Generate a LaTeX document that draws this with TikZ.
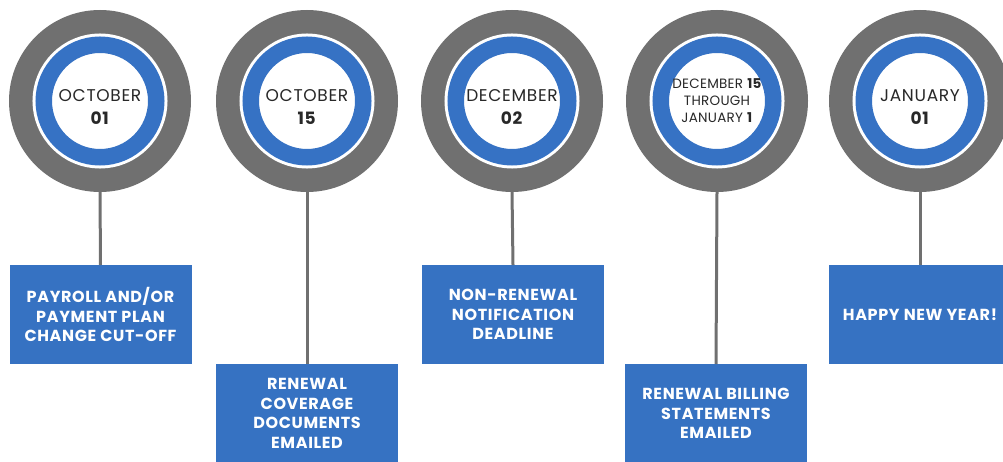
\documentclass[tikz,border=0pt]{standalone}
\usepackage{fontspec}
\setmainfont{Poppins}
\definecolor{ringgray}{RGB}{112,112,112}
\definecolor{ringblue}{RGB}{54,114,196}
\definecolor{boxblue}{RGB}{54,114,194}
\definecolor{txt}{RGB}{40,40,40}
\newcommand{\datelines}[1]{\raisebox{-7.5pt}[\height][\depth]{\begin{tabular}{@{}c@{}}#1\end{tabular}}}
\begin{document}
\begin{tikzpicture}[x=1pt,y=-1pt,
  outerring/.style={circle, fill=ringgray, minimum size=182pt, inner sep=0pt, outer sep=0pt},
  datering/.style={circle, fill=white, draw=white, double=ringblue, double distance=16.5pt, line width=3pt, minimum size=112.5pt, inner sep=0pt, align=center, text=txt, font=\fontsize{17}{23}\selectfont\addfontfeatures{LetterSpace=4}},
  smalldate/.style={font=\fontsize{13.5}{17}\selectfont\addfontfeatures{LetterSpace=2}},
  stepbox/.style={rectangle, fill=boxblue, minimum width=182pt, minimum height=99pt, inner sep=0pt, outer sep=0pt, align=center, text=white, font=\bfseries\fontsize{16}{19.5}\selectfont\addfontfeatures{LetterSpace=4}},
  link/.style={draw=ringgray, line width=3pt}]
\useasboundingbox (0,0) rectangle (1003,462);
\clip (0,0) rectangle (1003,462);
% boxes
\node[stepbox] (b1) at (100.5,314.5) {PAYROLL AND/OR\\PAYMENT PLAN\\CHANGE CUT-OFF};
\node[stepbox] (b2) at (307,413.5) {RENEWAL\\COVERAGE\\DOCUMENTS\\EMAILED};
\node[stepbox] (b3) at (513,314.5) {NON-RENEWAL\\NOTIFICATION\\DEADLINE};
\node[stepbox] (b4) at (716,413.5) {RENEWAL BILLING\\STATEMENTS\\EMAILED};
\node[stepbox] (b5) at (920,314.5) {HAPPY NEW YEAR!};
% circles
\node[outerring] (c1) at (100,101) {};
\node[outerring] (c2) at (307,101) {};
\node[outerring] (c3) at (512,101) {};
\node[outerring] (c4) at (717,101) {};
\node[outerring] (c5) at (920,101) {};
% connectors
\draw[link] (c1.south) -- (b1.north);
\draw[link] (c2.south) -- (b2.north);
\draw[link] (c3.south) -- (b3.north);
\draw[link] (c4.south) -- (b4.north);
\draw[link] (c5.south) -- (b5.north);
% date labels
\node[datering] (d1) at (c1) {\datelines{OCTOBER\\\textbf{01}}};
\node[datering] (d2) at (c2) {\datelines{OCTOBER\\\textbf{15}}};
\node[datering] (d3) at (c3) {\datelines{DECEMBER\\\textbf{02}}};
\node[datering, smalldate] (d4) at (c4) {DECEMBER \textbf{15}\\THROUGH\\JANUARY \textbf{1}};
\node[datering] (d5) at (c5) {\datelines{JANUARY\\\textbf{01}}};
\end{tikzpicture}
\end{document}
